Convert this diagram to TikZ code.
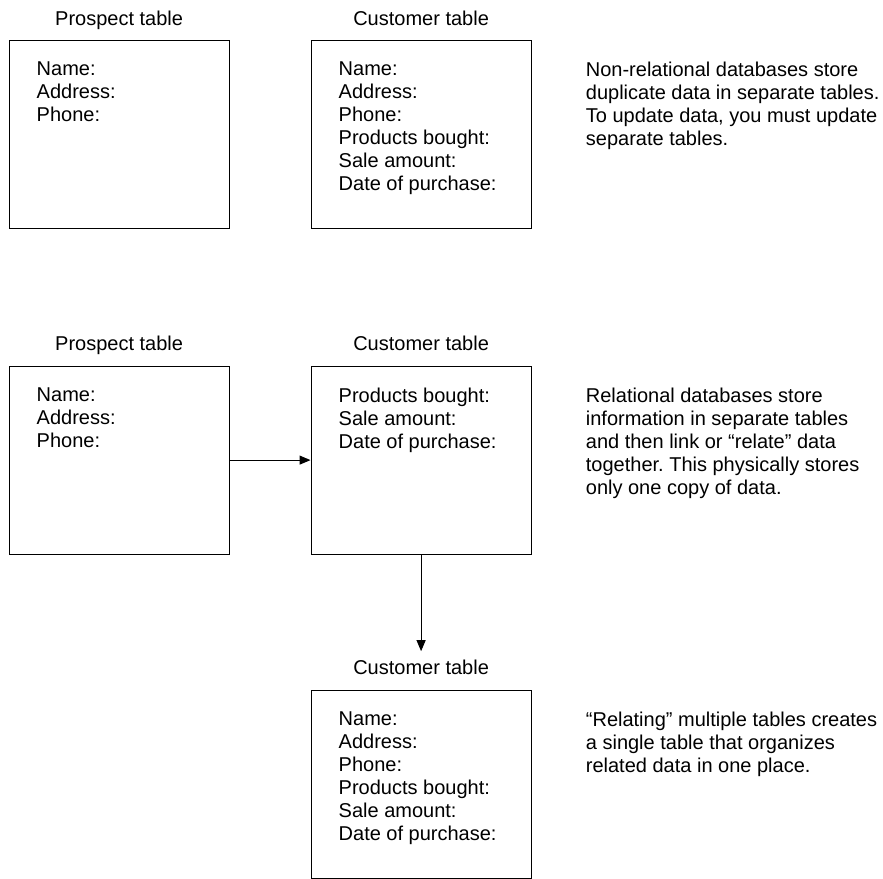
\documentclass[tikz,border=0pt]{standalone}
\usepackage{fontspec}
\setmainfont{Liberation Sans}
\frenchspacing
\usetikzlibrary{positioning,arrows.meta,calc}

\begin{document}
\begin{tikzpicture}[
    x=1pt, y=-1pt,
    node distance=80.8pt and 80.8pt,
    tablebox/.style={rectangle, draw, line width=1.2pt, minimum width=220pt, minimum height=188pt, inner sep=0pt},
    tabletitle/.style={inner sep=0pt, text depth=0pt, font=\fontsize{20}{23}\selectfont},
    fields/.style={anchor=north west, inner sep=0pt, align=left, font=\fontsize{20}{23}\selectfont},
    note/.style={anchor=north west, inner sep=0pt, align=left, font=\fontsize{20}{23}\selectfont},
    link/.style={-{Triangle[length=11pt,width=9pt]}, line width=1pt}
]
\useasboundingbox (0,0) rectangle (883,878);

% Tables
\node[tablebox, anchor=north west] (pros1) at (8.5,40) {};
\node[tablebox, right=80.8pt of pros1] (cust1) {};
\node[tablebox, below=136.3pt of pros1] (pros2) {};
\node[tablebox, right=80.8pt of pros2] (cust2) {};
\node[tablebox, below=134.8pt of cust2] (cust3) {};

% Table titles
\node[tabletitle, above=14.4pt of pros1] (ptitle1) {Prospect table};
\node[tabletitle, above=14.4pt of cust1] (ctitle1) {Customer table};
\node[tabletitle, above=14.4pt of pros2] (ptitle2) {Prospect table};
\node[tabletitle, above=14.4pt of cust2] (ctitle2) {Customer table};
\node[tabletitle, above=14.4pt of cust3] (ctitle3) {Customer table};

% Fields
\node[fields] (pfields1) at ([xshift=28pt, yshift=-22pt]pros1.north west) {Name:\\Address:\\Phone:};
\node[fields] (cfields1) at ([xshift=28pt, yshift=-22pt]cust1.north west) {Name:\\Address:\\Phone:\\Products bought:\\Sale amount:\\Date of purchase:};
\node[fields] (pfields2) at ([xshift=28pt, yshift=-22pt]pros2.north west) {Name:\\Address:\\Phone:};
\node[fields] (cfields2) at ([xshift=28pt, yshift=-22pt]cust2.north west) {Products bought:\\Sale amount:\\Date of purchase:};
\node[fields] (cfields3) at ([xshift=28pt, yshift=-22pt]cust3.north west) {Name:\\Address:\\Phone:\\Products bought:\\Sale amount:\\Date of purchase:};

% Notes
\node[note] (note1) at ([xshift=54pt, yshift=-22pt]cust1.north east) {Non-relational databases store\\duplicate data in separate tables.\\To update data, you must update\\separate tables.};
\node[note] (note2) at ([xshift=54pt, yshift=-22pt]cust2.north east) {Relational databases store\\information in separate tables\\and then link or “relate” data\\together. This physically stores\\only one copy of data.};
\node[note] (note3) at ([xshift=54pt, yshift=-22pt]cust3.north east) {“Relating” multiple tables creates\\a single table that organizes\\related data in one place.};

% Arrows
\draw[link] (pros2) -- (cust2);
\draw[link] (cust2) -- ([yshift=9pt]ctitle3.north);

\end{tikzpicture}
\end{document}
